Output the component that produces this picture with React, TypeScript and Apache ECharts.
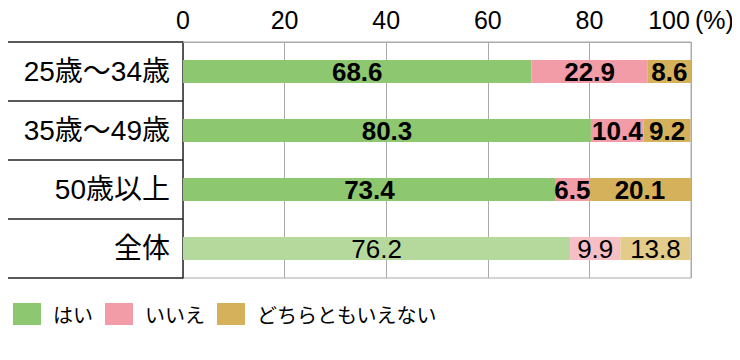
import React, { useEffect, useRef } from "react";
import * as echarts from "echarts";

const categories = ["25歳～34歳", "35歳～49歳", "50歳以上", "全体"];
const seriesNames = ["はい", "いいえ", "どちらともいえない"];
const yesValues = [68.6, 80.3, 73.4, 76.2];
const noValues = [22.9, 10.4, 6.5, 9.9];
const neitherValues = [8.6, 9.2, 20.1, 13.8];
const xTicks = [0, 20, 40, 60, 80, 100];

const FONT = "'Liberation Sans', 'Noto Sans CJK JP', sans-serif";
const CJK = "'Noto Sans CJK JP', sans-serif";
const colors = ["#8dc76f", "#f29ca8", "#d5b15c"];
const lightColors = ["#b5d99c", "#f6bec5", "#e3cb8a"];

export default function App() {
  const ref = useRef<HTMLDivElement>(null);
  useEffect(() => {
    if (!ref.current) return;
    const chart = echarts.init(ref.current, undefined, { renderer: "svg" });
    const all = [yesValues, noValues, neitherValues];
    const series = all.map((vals, si) => ({
      name: seriesNames[si],
      type: "bar",
      stack: "total",
      barWidth: 23,
      itemStyle: { color: colors[si] },
      label: {
        show: true,
        position: "inside",
        color: "#000",
        fontSize: 26,
        fontWeight: "bold",
        fontFamily: FONT,
        formatter: (p: any) => p.value.toFixed(1),
      },
      data: vals.map((v, i) =>
        i === categories.length - 1
          ? {
              value: v,
              itemStyle: { color: lightColors[si] },
              label: { fontWeight: "normal" },
            }
          : v
      ),
    }));
    chart.setOption({
      animation: false,
      textStyle: { fontFamily: FONT },
      grid: {
        left: 183,
        right: 49,
        top: 42,
        bottom: 82,
        show: true,
        borderColor: "#aaaaaa",
        borderWidth: 1,
      },
      legend: {
        left: 8,
        top: 298,
        itemWidth: 28,
        itemHeight: 22,
        itemGap: 12,
        icon: "rect",
        data: seriesNames,
        textStyle: {
          fontSize: 20,
          color: "#000",
          fontFamily: CJK,
          padding: [0, 0, 0, 7],
        },
      },
      xAxis: {
        type: "value",
        position: "top",
        min: 0,
        max: 100,
        interval: 20,
        axisLine: { show: true, lineStyle: { color: "#aaaaaa" } },
        axisTick: { show: false },
        splitLine: { show: true, lineStyle: { color: "#aaaaaa" } },
        axisLabel: {
          margin: 10,
          color: "#000",
          fontSize: 25,
          fontFamily: FONT,
          formatter: (v: number) =>
            xTicks.includes(v)
              ? v === 100
                ? "{n|100}{q|(%)}"
                : String(v)
              : "",
          rich: {
            n: { fontSize: 25, color: "#000", fontFamily: FONT },
            q: {
              fontSize: 25,
              color: "#000",
              fontFamily: FONT,
              padding: [0, 0, 0, 5],
            },
          },
        },
      },
      yAxis: {
        type: "category",
        inverse: true,
        data: categories,
        axisLine: { show: true, lineStyle: { color: "#333", width: 1.5 } },
        axisTick: {
          show: true,
          length: 177,
          lineStyle: { color: "#222", width: 1.5 },
        },
        axisLabel: {
          margin: 13,
          color: "#000",
          fontSize: 28,
          fontFamily: FONT,
        },
      },
      series,
    });
    return () => chart.dispose();
  }, []);
  return <div ref={ref} style={{ width: 740, height: 360, margin: -8 }} />;
}
